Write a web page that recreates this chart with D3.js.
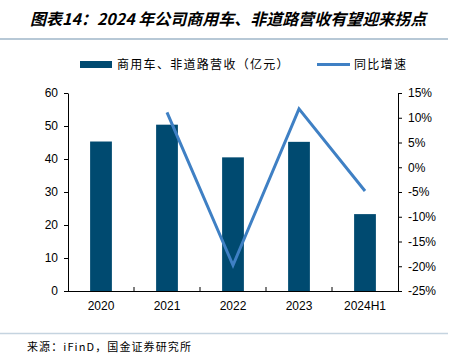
<!DOCTYPE html>
<html><head><meta charset="utf-8">
<script src="https://cdn.jsdelivr.net/npm/d3@7"></script>
<style>body{margin:0;background:#fff;}svg{display:block;}</style>
</head><body>
<svg id="c" width="452" height="359"></svg>
<script>
const categories = ["2020","2021","2022","2023","2024H1"];
const revenue = [45.3, 50.4, 40.5, 45.2, 23.3];
const growth = [null, 11.1, -19.8, 11.8, -4.8];
const leftTicks = [0,10,20,30,40,50,60];
const rightTicks = [-25,-20,-15,-10,-5,0,5,10,15];

const svg = d3.select("#c");
const m={l:68,r:398,t:93,b:291};
const cjk = "'Noto Sans CJK SC', sans-serif";
const latin = "'Liberation Sans', Arial, sans-serif";

// title
svg.append("text").attr("x",30).attr("y",25).attr("font-family",cjk)
  .attr("font-size",16).attr("font-weight","bold").attr("font-style","italic").attr("fill","#000")
  .text("图表14：2024 年公司商用车、非道路营收有望迎来拐点");
svg.append("line").attr("x1",0).attr("x2",448).attr("y1",39).attr("y2",39).attr("stroke","#9fb6c9").attr("stroke-width",1.5);
svg.append("line").attr("x1",0).attr("x2",448).attr("y1",333.5).attr("y2",333.5).attr("stroke","#c5d4e0").attr("stroke-width",1.5);
svg.append("text").attr("x",27).attr("y",351).attr("font-family",cjk).attr("font-size",11).attr("letter-spacing",1.1).attr("fill","#000")
  .text("来源：iFinD，国金证券研究所");

const x = d3.scaleBand().domain(categories).range([m.l,m.r]).paddingInner(0.67).paddingOuter(0.335);
const xb = d3.scaleBand().domain(categories).range([m.l,m.r]);
const yL = d3.scaleLinear().domain([0,60]).range([m.b,m.t]);
const yR = d3.scaleLinear().domain([-25,15]).range([m.b,m.t]);

const barColor="#004a70", lineColor="#3f80c4";

svg.selectAll("rect.bar").data(categories).join("rect").attr("class","bar")
  .attr("x",d=>x(d)).attr("width",x.bandwidth())
  .attr("y",(d,i)=>yL(revenue[i])).attr("height",(d,i)=>m.b-yL(revenue[i]))
  .attr("fill",barColor);

const pts = categories.map((c,i)=>({c,v:growth[i]})).filter(d=>d.v!==null);
svg.append("path").datum(pts)
  .attr("d",d3.line().x(d=>xb(d.c)+xb.bandwidth()/2).y(d=>yR(d.v)))
  .attr("fill","none").attr("stroke",lineColor).attr("stroke-width",3);

// axes
const gL = svg.append("g").attr("transform",`translate(${m.l},0)`)
  .call(d3.axisLeft(yL).tickValues(leftTicks).tickSize(4).tickSizeOuter(0).tickPadding(6));
const gR = svg.append("g").attr("transform",`translate(${m.r},0)`)
  .call(d3.axisRight(yR).tickValues(rightTicks).tickFormat(d=>d+"%").tickSize(4).tickSizeOuter(0).tickPadding(6));
const gB = svg.append("g").attr("transform",`translate(0,${m.b})`)
  .call(d3.axisBottom(xb).tickSize(0).tickPadding(10));
svg.selectAll("line.div").data(categories.slice(1)).join("line").attr("class","div")
  .attr("x1",d=>xb(d)).attr("x2",d=>xb(d)).attr("y1",m.b).attr("y2",m.b-4).attr("stroke","#000");
[gL,gR,gB].forEach(g=>{
  g.selectAll("text").attr("font-family",latin).attr("font-size",12).attr("fill","#000");
  g.selectAll("path,line").attr("stroke","#000");
});
gB.select("path").attr("d",`M${m.l},0.5H${m.r}`);

// legend
svg.append("rect").attr("x",80).attr("y",61).attr("width",32).attr("height",7).attr("fill",barColor);
svg.append("text").attr("x",117).attr("y",69).attr("font-family",cjk).attr("font-size",12).attr("letter-spacing",1.3).attr("fill","#000")
  .text("商用车、非道路营收（亿元）");
svg.append("line").attr("x1",317).attr("x2",350).attr("y1",64.5).attr("y2",64.5).attr("stroke",lineColor).attr("stroke-width",3);
svg.append("text").attr("x",354).attr("y",69).attr("font-family",cjk).attr("font-size",12).attr("letter-spacing",1.3).attr("fill","#000")
  .text("同比增速");
</script>
</body></html>
